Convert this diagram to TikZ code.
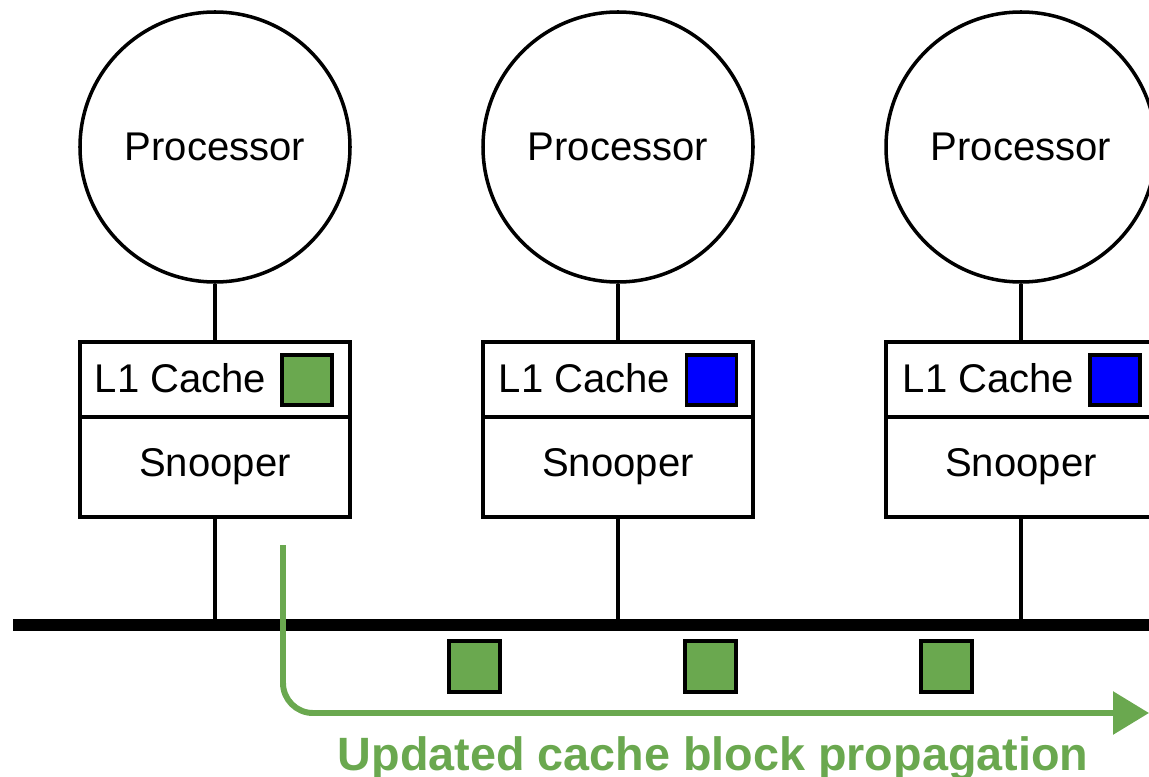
\documentclass[tikz,border=0pt]{standalone}
\usepackage{fontspec}
\setmainfont{Liberation Sans}
\usetikzlibrary{arrows.meta}
\definecolor{ggreen}{RGB}{106,168,79}
\definecolor{bblue}{RGB}{0,0,255}

\begin{document}
\begin{tikzpicture}[line width=1pt,
    proc/.style={draw, circle, minimum size=2.70cm, font=\fontsize{11.4}{13}\selectfont},
    cachebox/.style={draw, rectangle, minimum width=2.70cm, minimum height=0.75cm},
    snoopbox/.style={draw, rectangle, minimum width=2.70cm, minimum height=1.00cm, font=\fontsize{11.4}{13}\selectfont},
    block/.style={draw, rectangle, minimum size=0.50cm, inner sep=0pt}]
    \useasboundingbox (0, 0) rectangle (11.49, 7.76);
    \clip (0, 0) rectangle (11.49, 7.76);

    % processors
    \node[proc] (proc1) at (2.15, 6.29) {Processor};
    \node[proc] (proc2) at (6.18, 6.29) {Processor};
    \node[proc] (proc3) at (10.21, 6.29) {Processor};

    % caches + snoopers
    \node[cachebox] (cache1) at (2.15, 3.965) {};
    \node[cachebox] (cache2) at (6.18, 3.965) {};
    \node[cachebox] (cache3) at (10.21, 3.965) {};
    \node[snoopbox] (snoop1) at (2.15, 3.09) {\raisebox{-0.04cm}{Snooper}};
    \node[snoopbox] (snoop2) at (6.18, 3.09) {\raisebox{-0.04cm}{Snooper}};
    \node[snoopbox] (snoop3) at (10.21, 3.09) {\raisebox{-0.04cm}{Snooper}};

    \node[anchor=west, inner sep=0pt, font=\fontsize{11.4}{13}\selectfont] (lab1) at (0.93, 3.98) {L1 Cache};
    \node[anchor=west, inner sep=0pt, font=\fontsize{11.4}{13}\selectfont] (lab2) at (4.97, 3.98) {L1 Cache};
    \node[anchor=west, inner sep=0pt, font=\fontsize{11.4}{13}\selectfont] (lab3) at (9.01, 3.98) {L1 Cache};
    \node[block, fill=ggreen] (blk1) at (3.07, 3.96) {};
    \node[block, fill=bblue] (blk2) at (7.115, 3.96) {};
    \node[block, fill=bblue] (blk3) at (11.15, 3.96) {};

    \draw (proc1) -- (cache1);
    \draw (proc2) -- (cache2);
    \draw (proc3) -- (cache3);

    % bus
    \coordinate (busL) at (0.13, 1.51);
    \coordinate (busR) at (11.49, 1.51);
    \draw[line width=3.6pt] (busL) -- (busR);
    \draw (snoop1) -- (snoop1 |- busL);
    \draw (snoop2) -- (snoop2 |- busL);
    \draw (snoop3) -- (snoop3 |- busL);

    % blocks on the bus
    \node[block, fill=ggreen, minimum size=0.51cm] (msg1) at (4.745, 1.095) {};
    \node[block, fill=ggreen, minimum size=0.51cm] (msg2) at (7.105, 1.095) {};
    \node[block, fill=ggreen, minimum size=0.51cm] (msg3) at (9.465, 1.095) {};

    % propagation arrow
    \coordinate (arrS) at (2.83, 2.31);
    \coordinate (arrE) at (11.49, 0.63);
    \draw[ggreen, line width=1.7pt, rounded corners=0.3cm,
        -{Triangle[length=0.36cm, width=0.42cm]}] (arrS) |- (arrE);
    \node[anchor=base, text=ggreen, font=\bfseries\fontsize{13.3}{15}\selectfont] (caption) at (7.13, 0.06) {Updated cache block propagation};
\end{tikzpicture}
\end{document}
